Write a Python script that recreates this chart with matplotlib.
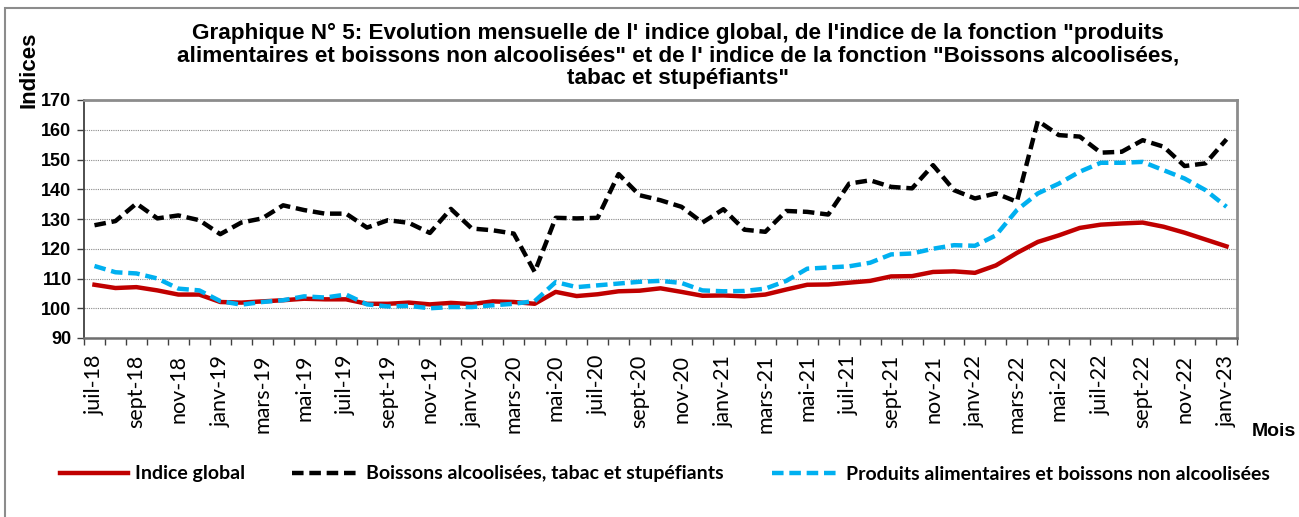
import matplotlib.pyplot as plt
import numpy as np
from matplotlib.patches import Rectangle

# Mois: juil-18 -> janv-23 (55 mois)
mois_fr = ['janv', 'févr', 'mars', 'avr', 'mai', 'juin',
           'juil', 'août', 'sept', 'oct', 'nov', 'déc']
mois = [f"{mois_fr[(6 + k) % 12]}-{18 + (6 + k) // 12}" for k in range(55)]

indice_global = [107.9, 106.8, 107.1, 106.0, 104.6, 104.6, 102.1, 101.9, 102.3, 102.7,
                 103.2, 103.0, 103.0, 101.5, 101.5, 101.9, 101.3, 101.8, 101.4, 102.3,
                 102.1, 101.5, 105.5, 104.1, 104.7, 105.7, 105.9, 106.7, 105.5, 104.2,
                 104.3, 104.0, 104.6, 106.3, 107.9, 108.0, 108.6, 109.2, 110.7, 110.8,
                 112.2, 112.4, 111.9, 114.4, 118.6, 122.3, 124.5, 127.0, 128.1, 128.5,
                 128.8, 127.4, 125.4, 123.1, 120.8]

boissons_alcool = [127.9, 129.3, 135.2, 130.2, 131.2, 129.6, 124.9, 128.8, 130.2, 134.6,
                   133.0, 131.8, 131.8, 127.1, 129.6, 128.7, 125.3, 133.4, 126.8, 126.2,
                   125.1, 112.2, 130.4, 130.2, 130.4, 145.1, 138.0, 136.3, 134.1, 128.8,
                   133.3, 126.4, 125.7, 132.7, 132.4, 131.5, 141.9, 143.0, 140.8, 140.3,
                   148.1, 139.7, 136.9, 138.6, 135.8, 163.0, 158.2, 157.7, 152.3, 152.6,
                   156.5, 154.3, 147.8, 148.7, 156.8]

produits_alim = [114.2, 112.1, 111.7, 110.0, 106.6, 106.0, 102.4, 101.2, 102.1, 102.7,
                 104.0, 103.6, 104.6, 101.3, 100.6, 100.8, 100.0, 100.4, 100.4, 101.0,
                 101.5, 102.4, 108.8, 107.1, 107.7, 108.3, 108.9, 109.2, 108.5, 106.0,
                 105.7, 105.8, 106.6, 109.2, 113.3, 113.7, 114.1, 115.3, 118.1, 118.4,
                 120.0, 121.2, 121.0, 124.5, 133.0, 138.6, 141.9, 145.9, 148.9, 148.9,
                 149.2, 146.4, 143.6, 139.7, 134.1]

titre = ('Graphique N° 5: Evolution mensuelle de l\' indice global, de l\'indice de la fonction "produits\n'
         'alimentaires et boissons non alcoolisées" et de l\' indice de la fonction "Boissons alcoolisées,\n'
         'tabac et stupéfiants"')

W, H = 1299, 517
fig = plt.figure(figsize=(W / 100, H / 100), dpi=100)
ax = fig.add_axes([84 / W, 1 - 338 / H, 1153 / W, 238 / H])

# cadre gris autour du graphique
fig.patches.append(Rectangle((5 / W, -0.1), 1.2, 1.1 - 8 / H, transform=fig.transFigure,
                             fill=False, edgecolor='#8c8c8c', linewidth=1.5))

x = np.arange(len(mois))
dash = (2.6, 1.3)
ax.plot(x, indice_global, color='#C00000', lw=3.2, label='Indice global')
ax.plot(x, boissons_alcool, color='black', lw=3.2, dashes=dash,
        label='Boissons alcoolisées, tabac et stupéfiants')
ax.plot(x, produits_alim, color='#00B0F0', lw=3.2, dashes=dash,
        label='Produits alimentaires et boissons non alcoolisées')

ax.set_xlim(-0.5, len(mois) - 0.5)
ax.set_ylim(90, 170)
ax.set_yticks(range(90, 171, 10))
ax.yaxis.grid(True, color='#8a8a8a', linestyle=(0, (1, 1)), lw=0.8)
ax.set_axisbelow(True)

# graduations entre les catégories, étiquettes un mois sur deux
ax.set_xticks(np.arange(-0.5, len(mois), 1))
ax.set_xticklabels([])
ax.set_xticks(x[::2], minor=True)
ax.set_xticklabels(mois[::2], minor=True, rotation=90, fontsize=15.5, family='Lato')
ax.tick_params(axis='x', which='major', direction='out', length=5, width=1, color='#404040')
ax.tick_params(axis='x', which='minor', length=0, pad=12)
ax.tick_params(axis='y', direction='out', length=5, width=1, color='#404040', pad=4)
for lab in ax.get_yticklabels():
    lab.set_fontweight('bold')
    lab.set_fontsize(13)
    lab.set_family('Liberation Sans')

for s in ['top', 'right']:
    ax.spines[s].set_color('#8c8c8c')
    ax.spines[s].set_linewidth(2)
ax.spines['left'].set_color('#404040')
ax.spines['left'].set_linewidth(1.3)
ax.spines['bottom'].set_color('#6e6e6e')
ax.spines['bottom'].set_linewidth(1.8)

fig.text(678 / W, 1 - 23 / H, titre, ha='center', va='top', fontsize=16.2,
         fontweight='bold', family='Liberation Sans', linespacing=1.1)
fig.text(29 / W, 1 - 108 / H, 'Indices', rotation=90, ha='center', va='bottom',
         fontsize=16, fontweight='bold', family='Liberation Sans')
fig.text(1252 / W, 1 - 432 / H, 'Mois', ha='left', va='center',
         fontsize=14, fontweight='bold', family='Liberation Sans')

fig.legend(loc='center', bbox_to_anchor=(665 / W, 1 - 474 / H), ncol=3, frameon=False,
           handlelength=3.45, handletextpad=0.36, columnspacing=2.45,
           prop={'family': 'Lato', 'weight': 'bold', 'size': 14})

fig.savefig('out.png', dpi=100)
